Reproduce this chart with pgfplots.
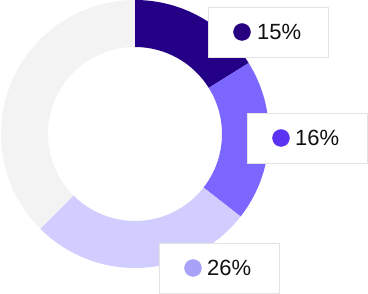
\documentclass[border=0pt]{standalone}
\usepackage{pgfplots}
\pgfplotsset{compat=1.18}
\usepackage{fontspec}
\setmainfont{Liberation Sans}
\definecolor{s1}{HTML}{230085}
\definecolor{s2}{HTML}{7B66FF}
\definecolor{s3}{HTML}{D1CDFF}
\definecolor{s4}{HTML}{F3F3F3}
\definecolor{d1}{HTML}{26007F}
\definecolor{d2}{HTML}{5C33F2}
\definecolor{d3}{HTML}{A8A2F8}
\definecolor{bx}{HTML}{E3E3E3}
\definecolor{tx}{HTML}{111111}
\newcommand{\seg}[3]{%
  \fill[#3] ([shift={(#1:134pt)}]O) arc[start angle=#1, end angle=#2, radius=134pt]
     -- ([shift={(#2:87pt)}]O) arc[start angle=#2, end angle=#1, radius=87pt] -- cycle;}
\begin{document}
\begin{tikzpicture}
\begin{axis}[hide axis, x=1pt, y=1pt, xmin=0, xmax=368, ymin=0, ymax=294,
  clip=false, scale only axis]
\coordinate (LL) at (axis cs:0,0);
\coordinate (UR) at (axis cs:368,294);
\coordinate (O) at (axis cs:135,160);
% segments: start angle / end angle (clockwise from top)
\seg{90}{32}{s1}
\seg{32}{-38}{s2}
\seg{-38}{-135}{s3}
\seg{-135}{-270}{s4}
% label boxes
\draw[bx, fill=white, line width=0.8pt] (axis cs:208,237) rectangle (axis cs:328,287);
\draw[bx, fill=white, line width=0.8pt] (axis cs:247,131) rectangle (axis cs:367,181);
\draw[bx, fill=white, line width=0.8pt] (axis cs:159,1) rectangle (axis cs:279,51);
\addplot[only marks, mark=*, mark size=8.5pt, color=d1] coordinates {(242,262)};
\addplot[only marks, mark=*, mark size=8.5pt, color=d2] coordinates {(281,156)};
\addplot[only marks, mark=*, mark size=8.5pt, color=d3] coordinates {(193,26)};
\node[anchor=west, inner sep=0pt, text=tx, font=\fontsize{22}{22}\selectfont] at (axis cs:257,262) {15\%};
\node[anchor=west, inner sep=0pt, text=tx, font=\fontsize{22}{22}\selectfont] at (axis cs:295,156) {16\%};
\node[anchor=west, inner sep=0pt, text=tx, font=\fontsize{22}{22}\selectfont] at (axis cs:207,26) {26\%};
\end{axis}
\pgfresetboundingbox
\path[use as bounding box] (LL) rectangle (UR);
\end{tikzpicture}
\end{document}
